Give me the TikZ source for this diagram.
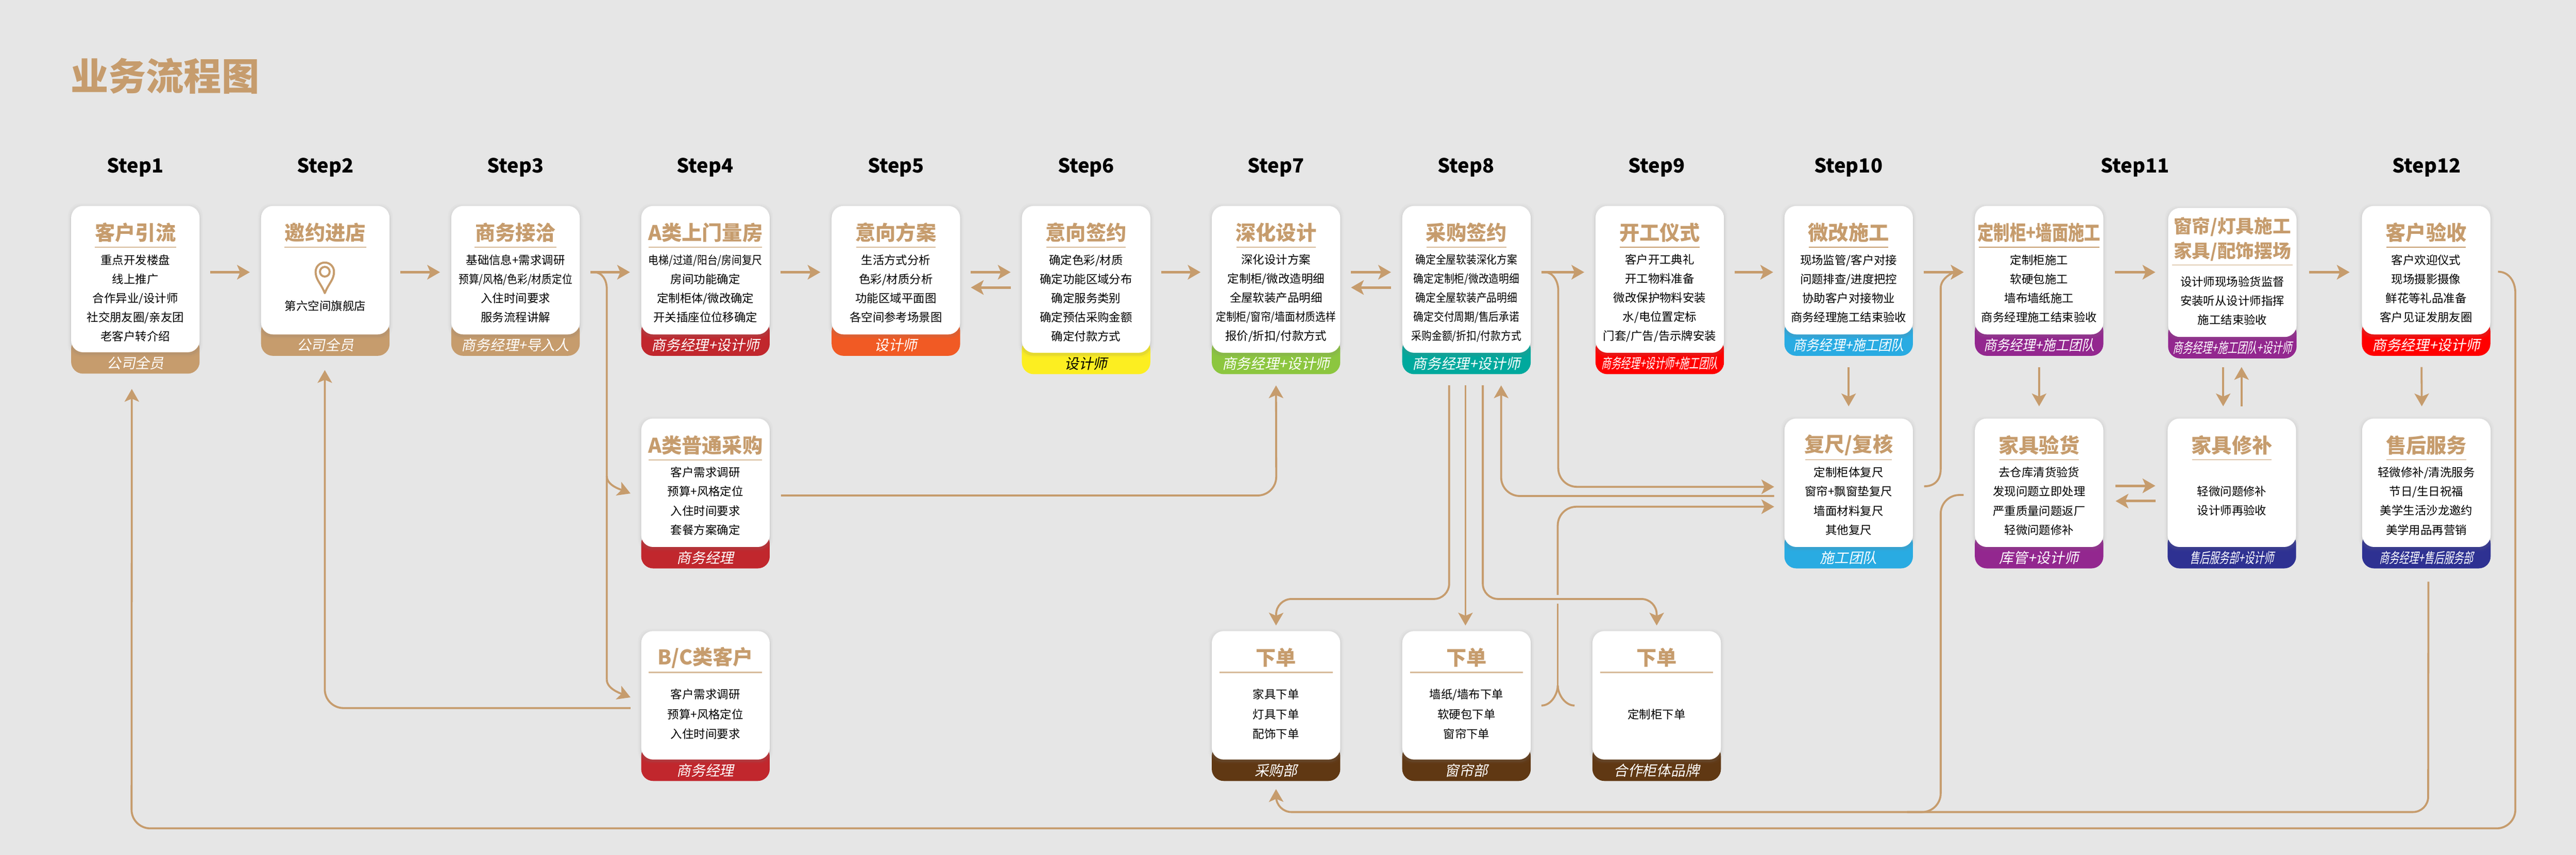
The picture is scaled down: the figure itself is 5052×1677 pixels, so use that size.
\documentclass[tikz,border=0pt]{standalone}
\usepackage{fontspec}
\setmainfont{Noto Sans CJK SC}
\newfontfamily\bandfont[FakeSlant=0.2]{Noto Sans CJK SC}
\newfontfamily\bandmid[FakeSlant=0.2,FakeStretch=0.91]{Noto Sans CJK SC}
\newfontfamily\bandnarrow[FakeSlant=0.2,FakeStretch=0.69]{Noto Sans CJK SC}
\newfontfamily\bodynarrow[FakeStretch=0.88]{Noto Sans CJK SC}
\newfontfamily\titlenarrow[FakeStretch=0.8]{Noto Sans CJK SC}
\usetikzlibrary{arrows.meta,shadows}

\definecolor{pagebg}{HTML}{E6E6E6}
\definecolor{flowtan}{HTML}{C69C6D}
\definecolor{bandred}{HTML}{C1272D}
\definecolor{bandorange}{HTML}{F15A24}
\definecolor{bandyellow}{HTML}{FCEE21}
\definecolor{bandgreen}{HTML}{8CC63F}
\definecolor{bandteal}{HTML}{00A99D}
\definecolor{bandblue}{HTML}{29ABE2}
\definecolor{bandpurple}{HTML}{93278F}
\definecolor{bandnavy}{HTML}{2E3192}
\definecolor{bandbrown}{HTML}{603813}

\tikzset{
  cardbox/.style={fill=white, rounded corners=7pt, minimum width=75.6pt, inner sep=0pt, outer sep=0pt, anchor=north,
    drop shadow={shadow xshift=0pt, shadow yshift=-0.6pt, shadow scale=1.05, opacity=0.04},
    drop shadow={shadow xshift=0pt, shadow yshift=-0.6pt, shadow scale=1.03, opacity=0.05},
    drop shadow={shadow xshift=0pt, shadow yshift=-1pt, shadow scale=1.015, opacity=0.09}},
  bandbox/.style={rounded corners=7pt, minimum width=75.6pt, minimum height=21.6pt, inner sep=0pt, outer sep=0pt, anchor=north},
  bandtext/.style={text=white, inner sep=0pt, font=\bandfont\fontsize{8.4}{9}\selectfont},
  cardtitle/.style={text=flowtan, inner sep=0pt, font=\bfseries\fontsize{11.9}{14.4}\selectfont, align=center},
  cardbody/.style={text=black, inner sep=0pt, font=\fontsize{6.8}{11.25}\selectfont, align=center},
  cardrule/.style={draw=flowtan!70, line width=0.7pt},
  steplabel/.style={text=black, inner sep=0pt, font=\bfseries\fontsize{11.5}{14}\selectfont},
  pagetitle/.style={text=flowtan, inner sep=0pt, anchor=west, font=\bfseries\fontsize{22.2}{26}\selectfont},
  flowline/.style={draw=flowtan, line width=1.15pt},
  flowarrow/.style={flowline, -{Stealth[length=7.5pt,width=8.5pt,inset=1.8pt]}},
  rowarrow/.style={flowarrow, line width=1.5pt},
  flowbend/.style={rounded corners=11pt},
}

% name, x, top, height, band colour, band text
\newcommand{\flowcard}[6]{%
  \node[bandbox, fill=#5] (#1band) at (#2,#3+#4-30) {};
  \node[cardbox, minimum height=#4*0.3pt] (#1) at (#2,#3) {};
  \node[bandtext] (#1role) at (#2,#3+#4+21) {#6};
}
% name, title, half rule, body offset, body lines
\newcommand{\cardtext}[5]{%
  \node[cardtitle] (#1title) at ([yshift=-15.6pt]#1.north) {#2};
  \draw[cardrule] ([shift={(-#3,81)}]#1.north) -- ([shift={(#3,81)}]#1.north);
  \node[cardbody] (#1body) at ([shift={(0,#4)}]#1.north) {#5};
}

\begin{document}
\begin{tikzpicture}[x=0.3pt,y=-0.3pt]
\useasboundingbox (0,0) rectangle (5052,1677);
\fill[pagebg] (0,0) rectangle (5052,1677);

\node[pagetitle] (pagehead) at (138,149) {业务流程图};

\foreach \i/\x in {1/265,2/638,3/1011,4/1383,5/1757,6/2130,7/2502,8/2875,9/3249,10/3625,11/4187,12/4759}{
  \node[steplabel] (step\i) at (\x,328) {Step\i};
}

% TOP ROW
\flowcard{kehu}{265.5}{404}{287}{flowtan}{公司全员}
\cardtext{kehu}{客户引流}{80}{181}{重点开发楼盘\\线上推广\\合作异业/设计师\\社交朋友圈/亲友团\\老客户转介绍}

\flowcard{yaoyue}{638}{404}{252}{flowtan}{公司全员}
\cardtext{yaoyue}{邀约进店}{80}{196}{第六空间旗舰店}
\draw[flowtan, line width=1.2pt, line join=round] (637,575) .. controls (629,555) and (619,549) .. (619,533) arc (180:360:18) .. controls (655,549) and (645,555) .. (637,575) -- cycle;
\draw[flowtan, line width=1.2pt] (637,533) circle (9.5);

\flowcard{jiedai}{1011}{404}{252}{flowtan}{商务经理+导入人}
\cardtext{jiedai}{商务接洽}{80}{162}{基础信息+需求调研\\{\bodynarrow 预算/风格/色彩/材质定位}\\入住时间要求\\服务流程讲解}

\flowcard{liangfang}{1383.5}{404}{252}{bandred}{商务经理+设计师}
\cardtext{liangfang}{A类上门量房}{111}{162}{{\bodynarrow 电梯/过道/阳台/房间复尺}\\房间功能确定\\定制柜体/微改确定\\开关插座位位移确定}

\flowcard{fangan}{1757}{404}{252}{bandorange}{设计师}
\cardtext{fangan}{意向方案}{78}{162}{生活方式分析\\色彩/材质分析\\功能区域平面图\\各空间参考场景图}

\flowcard{qianyue}{2130}{404}{288}{bandyellow}{\color{black}设计师}
\cardtext{qianyue}{意向签约}{78}{181}{确定色彩/材质\\确定功能区域分布\\确定服务类别\\确定预估采购金额\\确定付款方式}

\flowcard{shenhua}{2502.5}{404}{288}{bandgreen}{商务经理+设计师}
\cardtext{shenhua}{深化设计}{78}{181}{深化设计方案\\定制柜/微改造明细\\全屋软装产品明细\\{\bodynarrow 定制柜/窗帘/墙面材质选样}\\报价/折扣/付款方式}

\flowcard{caigou}{2876}{404}{288}{bandteal}{商务经理+设计师}
\cardtext{caigou}{采购签约}{78}{181}{\bodynarrow 确定全屋软装深化方案\\\bodynarrow 确定定制柜/微改造明细\\\bodynarrow 确定全屋软装产品明细\\\bodynarrow 确定交付周期/售后承诺\\\bodynarrow 采购金额/折扣/付款方式}

\flowcard{putong}{1383.5}{821}{252}{bandred}{商务经理}
\cardtext{putong}{A类普通采购}{111}{162}{客户需求调研\\预算+风格定位\\入住时间要求\\套餐方案确定}

% THIRD ROW
\flowcard{bcke}{1383.5}{1238}{252}{bandred}{商务经理}
\cardtext{bcke}{B/C类客户}{111}{163}{客户需求调研\\[0.4pt]预算+风格定位\\[0.4pt]入住时间要求}

\flowcard{xiadanA}{2502.5}{1238}{252}{bandbrown}{采购部}
\cardtext{xiadanA}{下单}{111}{163}{家具下单\\[0.4pt]灯具下单\\[0.4pt]配饰下单}

\flowcard{xiadanB}{2876}{1238}{252}{bandbrown}{窗帘部}
\cardtext{xiadanB}{下单}{111}{163}{墙纸/墙布下单\\[0.4pt]软硬包下单\\[0.4pt]窗帘下单}

\flowcard{xiadanC}{3249}{1238}{252}{bandbrown}{合作柜体品牌}
\cardtext{xiadanC}{下单}{111}{163}{定制柜下单}

% RIGHT CARDS
\tikzset{cardrule/.style={draw=flowtan, line width=0.45pt}}

\flowcard{kaigong}{3255}{404}{288}{red}{\bandnarrow\fontsize{8.2}{9}\selectfont 商务经理+设计师+施工团队}
\cardtext{kaigong}{开工仪式}{78}{181}{客户开工典礼\\开工物料准备\\微改保护物料安装\\水/电位置定标\\门套/广告/告示牌安装}

\flowcard{weigai}{3625.5}{404}{252}{bandblue}{\bandmid 商务经理+施工团队}
\cardtext{weigai}{微改施工}{78}{162}{现场监管/客户对接\\问题排查/进度把控\\协助客户对接物业\\商务经理施工结束验收}

\flowcard{qiangmian}{3999}{404}{252}{bandpurple}{\bandmid 商务经理+施工团队}
\cardtext{qiangmian}{\titlenarrow\bfseries 定制柜+墙面施工}{118}{162}{定制柜施工\\软硬包施工\\墙布墙纸施工\\商务经理施工结束验收}

\flowcard{baichang}{4378}{408}{253}{bandpurple}{\bandnarrow 商务经理+施工团队+设计师}
\node[cardtitle, font=\bfseries\fontsize{10.8}{14.4}\selectfont] (baichangtitle) at (4378,469) {窗帘/灯具施工\\家具/配饰摆场};
\draw[cardrule] ([shift={(-118,112)}]baichang.north) -- ([shift={(118,112)}]baichang.north);
\node[cardbody] (baichangbody) at (4378,590) {设计师现场验货监督\\安装听从设计师指挥\\施工结束验收};

\flowcard{yanshou}{4758}{404}{252}{red}{商务经理+设计师}
\cardtext{yanshou}{客户验收}{78}{162}{客户欢迎仪式\\现场摄影摄像\\鲜花等礼品准备\\客户见证发朋友圈}

\flowcard{fuchi}{3625.5}{821}{252}{bandblue}{施工团队}
\cardtext{fuchi}{复尺/复核}{85}{162}{定制柜体复尺\\窗帘+飘窗垫复尺\\墙面材料复尺\\其他复尺}

\flowcard{yanhuo}{3999}{821}{252}{bandpurple}{库管+设计师}
\cardtext{yanhuo}{家具验货}{78}{162}{去仓库清货验货\\发现问题立即处理\\严重质量问题返厂\\轻微问题修补}

\flowcard{xiubu}{4377}{821}{252}{bandnavy}{\bandnarrow 售后服务部+设计师}
\cardtext{xiubu}{家具修补}{78}{162}{轻微问题修补\\设计师再验收}

\flowcard{shouhou}{4758.5}{821}{252}{bandnavy}{\bandnarrow 商务经理+售后服务部}
\cardtext{shouhou}{售后服务}{78}{162}{轻微修补/清洗服务\\节日/生日祝福\\美学生活沙龙邀约\\美学用品再营销}

% ROW ARROWS
\foreach \a/\b in {kehu/yaoyue,yaoyue/jiedai,jiedai/liangfang,liangfang/fangan,fangan/qianyue,qianyue/shenhua,shenhua/caigou,caigou/kaigong,kaigong/weigai,weigai/qiangmian}{
  \draw[rowarrow] ([shift={(21,130)}]\a.north east) -- ([shift={(-22,130)}]\b.north west);
}
\draw[rowarrow] ([shift={(23,130)}]qiangmian.north east) -- ([shift={(-25,126)}]baichang.north west);
\draw[rowarrow] ([shift={(25,126)}]baichang.north east) -- ([shift={(-24,130)}]yanshou.north west);
\foreach \a/\b in {fangan/qianyue,shenhua/caigou}{
  \draw[rowarrow] ([shift={(-22,160)}]\b.north west) -- ([shift={(21,160)}]\a.north east);
}

% COLUMN ARROWS
\foreach \a/\b in {weigai/fuchi,qiangmian/yanhuo}{
  \draw[flowarrow] ([yshift=-19.2pt]\a.south) -- ([yshift=7.2pt]\b.north);
}
\draw[flowarrow] ([shift={(-18,59)}]baichang.south) -- ([shift={(-17,-24)}]xiubu.north);
\draw[flowarrow] ([shift={(19,-24)}]xiubu.north) -- ([shift={(18,59)}]baichang.south);
\draw[flowarrow] ([shift={(-9,64)}]yanshou.south) -- ([shift={(-9,-24)}]shouhou.north);
\draw[rowarrow] ([shift={(24,132)}]yanhuo.north east) -- ([shift={(-24,132)}]xiubu.north west);
\draw[rowarrow] ([shift={(-24,162)}]xiubu.north west) -- ([shift={(24,162)}]yanhuo.north east);

% STEP 3 FORK
\coordinate (forkA) at (1190,567);
\coordinate (forkB) at (1190,934);
\coordinate (forkC) at (1190,1333);
\draw[flowline] ([shift={(28,130)}]jiedai.north east) .. controls +(16,0) and +(0,-18) .. (forkA) -- (forkC);
\draw[flowarrow] (forkB) .. controls +(0,18) and +(-20,-8) .. ([shift={(-21,147)}]putong.north west);
\draw[flowarrow] (forkC) .. controls +(0,18) and +(-20,-8) .. ([shift={(-21,130)}]bcke.north west);

% STEP 2 RETURN
\coordinate (bendA) at (637,1389);
\draw[flowarrow, flowbend] ([shift={(-21,151)}]bcke.north west) -- (bendA) -- ([shift={(-1,70)}]yaoyue.south);

% A PURCHASE TO STEP 7
\coordinate (bendB) at (2503,972);
\draw[flowarrow, flowbend] ([shift={(22,151)}]putong.north east) -- (bendB) -- ([yshift=-19.2pt]shenhua.south);

% STEP 8 ORDERS
\coordinate (bendC) at (2842,1175);
\coordinate (bendD) at (2503,1175);
\coordinate (bendE) at (2908,1175);
\coordinate (bendF) at (3249,1175);
\draw[flowarrow, rounded corners=9pt] ([shift={(-34,64)}]caigou.south) -- (bendC) -- (bendD) -- ([yshift=3.3pt]xiadanA.north);
\draw[flowarrow] ([shift={(-2,64)}]caigou.south) -- ([shift={(-2,-11)}]xiadanB.north);
\draw[flowarrow, rounded corners=9pt] ([shift={(32,64)}]caigou.south) -- (bendE) -- (bendF) -- ([yshift=3.3pt]xiadanC.north);

% STEP 8 BRANCH TO RECHECK
\coordinate (forkD) at (3056,570);
\coordinate (bendG) at (3056,955);
\draw[flowline] ([shift={(28,130)}]caigou.north east) .. controls +(16,0) and +(0,-18) .. (forkD);
\draw[flowarrow, flowbend] (forkD) -- (bendG) -- ([shift={(-20,134)}]fuchi.north west);

\coordinate (bendH) at (2944,973);
\draw[flowarrow, flowbend] ([shift={(-20,152)}]fuchi.north west) -- (bendH) -- ([shift={(68,64)}]caigou.south);

% ORDERS BACK TO RECHECK
\coordinate (forkE) at (3055,1345);
\coordinate (gapA) at (3055,1184);
\coordinate (gapB) at (3055,1167);
\coordinate (bendI) at (3055,994);
\draw[flowline] ([shift={(21,146)}]xiadanB.north east) .. controls +(20,0) and +(0,15) .. (forkE);
\draw[flowline] ([shift={(-35,146)}]xiadanC.north west) .. controls +(-20,0) and +(0,15) .. (forkE);
\draw[flowline] (forkE) -- (gapA);
\draw[flowarrow, flowbend] (gapB) -- (bendI) -- ([shift={(-20,173)}]fuchi.north west);

% RECHECK TO STEP 11
\coordinate (bendJ) at (3806,920);
\coordinate (bendK) at (3806,565);
\draw[flowarrow] ([shift={(22,133)}]fuchi.north east) .. controls +(22,0) and +(0,20) .. (bendJ) -- (bendK) .. controls +(0,-20) and +(-20,0) .. ([shift={(-22,130)}]qiangmian.north west);

% AFTER SALES LOOP
\coordinate (bendL) at (4762,1593);
\coordinate (bendM) at (2503,1593);
\draw[flowarrow, rounded corners=9pt] ([shift={(4,68)}]shouhou.south) -- (bendL) -- (bendM) -- ([yshift=-4.8pt]xiadanAband.south);
\coordinate (bendN) at (3806,971);
\coordinate (bendO) at (3806,1593);
\coordinate (bendP) at (3740,1593);
\draw[flowline, flowbend] ([shift={(-22,150)}]yanhuo.north west) -- (bendN) -- (bendO) -- (bendP);

% CUSTOMER LOOP
\coordinate (bendQ) at (4933,575);
\coordinate (bendR) at (4933,1625);
\coordinate (bendS) at (258,1625);
\draw[flowline] ([shift={(15,129)}]yanshou.north east) .. controls +(22,0) and +(0,-22) .. (bendQ);
\draw[flowarrow, flowbend] (bendQ) -- (bendR) -- (bendS) -- ([shift={(-7,72)}]kehu.south);
\end{tikzpicture}
\end{document}
